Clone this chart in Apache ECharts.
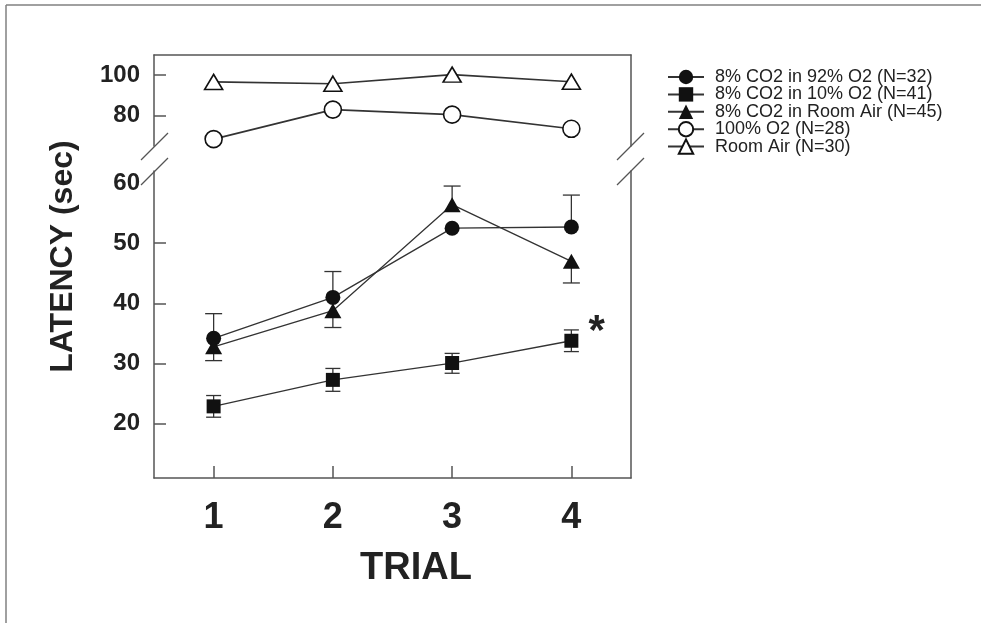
<!DOCTYPE html>
<html><head><meta charset="utf-8">
<script src="https://cdn.jsdelivr.net/npm/echarts@6/dist/echarts.min.js"></script>
<style>html,body{margin:0;padding:0;background:#fff}#c{width:981px;height:623px}</style>
</head><body><div id="c"></div>
<script>
// ---- data ----
const trials = ['1', '2', '3', '4'];
const seriesNames = ['8% CO2 in 92% O2 (N=32)', '8% CO2 in 10% O2 (N=41)', '8% CO2 in Room Air (N=45)', '100% O2 (N=28)', 'Room Air (N=30)'];
const co2In92O2 = [34.2, 41.0, 52.5, 52.7];
const co2In10O2 = [22.9, 27.3, 30.1, 33.8];
const co2InAir = [32.8, 38.8, 56.4, 47.0];
const o2Pure = [68.4, 83.0, 80.5, 73.5];
const roomAir = [96.7, 95.8, 100.3, 96.8];
// error bar end values (null = no visible bar)
const co2In92O2Hi = [38.3, 45.3, null, 58.0];
const co2InAirLo = [30.5, 36.0, null, 43.4];
const co2InAirHi = [null, null, 59.5, null];
const co2In10O2Lo = [21.1, 25.4, 28.4, 32.0];
const co2In10O2Hi = [24.7, 29.2, 31.7, 35.6];
// axis ticks / labels
const lowerTickValues = [20, 30, 40, 50];
const lowerLabelValues = [20, 30, 40, 50, 60];
const upperTickValues = [80, 100];

// ---- chart ----
const FONT = '"Liberation Sans", Arial, sans-serif';
const AX = '#555';
const INK = '#111';
const LINE = '#333';

function errData(vals, ends) {
  const out = [];
  vals.forEach((v, i) => { if (ends[i] != null) out.push([i, v, ends[i]]); });
  return out;
}
function errRender(capW) {
  return function (params, api) {
    const p0 = api.coord([api.value(0), api.value(1)]);
    const p1 = api.coord([api.value(0), api.value(2)]);
    const st = { stroke: LINE, lineWidth: 1.3 };
    return { type: 'group', children: [
      { type: 'line', shape: { x1: p0[0], y1: p0[1], x2: p1[0], y2: p1[1] }, style: st },
      { type: 'line', shape: { x1: p1[0] - capW / 2, y1: p1[1], x2: p1[0] + capW / 2, y2: p1[1] }, style: st }
    ]};
  };
}
function errSeries(data, capW) {
  return { type: 'custom', xAxisIndex: 1, yAxisIndex: 2, z: 1, silent: true,
    renderItem: errRender(capW), encode: { x: 0, y: [1, 2] }, data: data };
}

const axLine = { show: true, lineStyle: { color: AX, width: 1.5 } };
const chart = echarts.init(document.getElementById('c'), null, { renderer: 'canvas' });
chart.setOption({
  animation: false,
  backgroundColor: '#fff',
  textStyle: { fontFamily: FONT },
  grid: [
    { left: 154, width: 477, top: 55, height: 91 },
    { left: 154, width: 477, top: 171, height: 307 }
  ],
  xAxis: [
    { gridIndex: 0, type: 'category', data: trials, position: 'top', boundaryGap: true,
      axisLine: axLine, axisTick: { show: false }, axisLabel: { show: false }, splitLine: { show: false } },
    { gridIndex: 1, type: 'category', data: trials, position: 'bottom', boundaryGap: true,
      axisLine: axLine,
      axisTick: { show: true, inside: true, alignWithLabel: true, length: 12, lineStyle: { color: AX, width: 1.5 } },
      axisLabel: { fontSize: 36, fontWeight: 'bold', color: '#222', fontFamily: FONT, margin: 40, verticalAlign: 'middle' },
      splitLine: { show: false } }
  ],
  yAxis: [
    { gridIndex: 0, type: 'value', min: 65, max: 110, position: 'left',
      axisLine: axLine,
      axisTick: { show: true, inside: true, length: 12, customValues: upperTickValues, lineStyle: { color: AX, width: 1.5 } },
      axisLabel: { customValues: upperTickValues, fontSize: 24, fontWeight: 'bold', color: '#222', fontFamily: FONT, margin: 14 },
      splitLine: { show: false } },
    { gridIndex: 0, type: 'value', min: 65, max: 110, position: 'right',
      axisLine: axLine, axisTick: { show: false }, axisLabel: { show: false }, splitLine: { show: false } },
    { gridIndex: 1, type: 'value', min: 11, max: 62, position: 'left',
      axisLine: axLine,
      axisTick: { show: true, inside: true, length: 12, customValues: lowerTickValues, lineStyle: { color: AX, width: 1.5 } },
      axisLabel: { customValues: lowerLabelValues, fontSize: 24, fontWeight: 'bold', color: '#222', fontFamily: FONT, margin: 14 },
      splitLine: { show: false } },
    { gridIndex: 1, type: 'value', min: 11, max: 62, position: 'right',
      axisLine: axLine, axisTick: { show: false }, axisLabel: { show: false }, splitLine: { show: false } }
  ],
  legend: {
    orient: 'vertical', left: 662, top: 63, itemWidth: 36, itemHeight: 18, itemGap: -0.6,
    data: seriesNames,
    textStyle: { fontSize: 18, color: '#222', fontFamily: FONT, padding: [0, 0, 0, 6], lineHeight: 18 },
    selectedMode: false
  },
  series: [
    errSeries(errData(co2In92O2, co2In92O2Hi), 17),
    errSeries(errData(co2InAir, co2InAirLo), 17),
    errSeries(errData(co2InAir, co2InAirHi), 17),
    errSeries(errData(co2In10O2, co2In10O2Lo), 15),
    errSeries(errData(co2In10O2, co2In10O2Hi), 15),
    { name: seriesNames[0], type: 'line', xAxisIndex: 1, yAxisIndex: 2, data: co2In92O2, z: 3,
      symbol: 'circle', symbolSize: 15, itemStyle: { color: INK }, lineStyle: { color: LINE, width: 1.3 } },
    { name: seriesNames[1], type: 'line', xAxisIndex: 1, yAxisIndex: 2, z: 3,
      data: co2In10O2.map((v, i) => i === 3 ? { value: v, label: { show: true, formatter: '*', position: 'right', offset: [5, -8], fontSize: 42, fontWeight: 'bold', color: '#222', fontFamily: FONT } } : v),
      symbol: 'rect', symbolSize: 14, itemStyle: { color: INK }, lineStyle: { color: LINE, width: 1.3 } },
    { name: seriesNames[2], type: 'line', xAxisIndex: 1, yAxisIndex: 2, data: co2InAir, z: 3,
      symbol: 'triangle', symbolSize: [17, 15], itemStyle: { color: INK }, lineStyle: { color: LINE, width: 1.3 } },
    { name: seriesNames[3], type: 'line', xAxisIndex: 0, yAxisIndex: 0, data: o2Pure, z: 3,
      symbol: 'circle', symbolSize: 17, itemStyle: { color: '#fff', borderColor: INK, borderWidth: 1.6 }, lineStyle: { color: LINE, width: 1.6 } },
    { name: seriesNames[4], type: 'line', xAxisIndex: 0, yAxisIndex: 0, data: roomAir, z: 3,
      symbol: 'triangle', symbolSize: [18, 15], itemStyle: { color: '#fff', borderColor: INK, borderWidth: 1.6 }, lineStyle: { color: LINE, width: 1.6 } }
  ],
  graphic: [
    { type: 'line', shape: { x1: 6, y1: 5, x2: 981, y2: 5 }, style: { stroke: '#808080', lineWidth: 1.5 } },
    { type: 'line', shape: { x1: 6, y1: 5, x2: 6, y2: 623 }, style: { stroke: '#808080', lineWidth: 1.5 } },
    { type: 'line', shape: { x1: 141, y1: 160, x2: 168, y2: 133 }, style: { stroke: AX, lineWidth: 1.2 } },
    { type: 'line', shape: { x1: 141, y1: 185, x2: 168, y2: 158 }, style: { stroke: AX, lineWidth: 1.2 } },
    { type: 'line', shape: { x1: 617, y1: 160, x2: 644, y2: 133 }, style: { stroke: AX, lineWidth: 1.2 } },
    { type: 'line', shape: { x1: 617, y1: 185, x2: 644, y2: 158 }, style: { stroke: AX, lineWidth: 1.2 } },
    { type: 'text', x: 416, y: 569, style: { text: 'TRIAL', fontSize: 38, fontWeight: 'bold', fill: '#222', fontFamily: FONT, textAlign: 'center', textVerticalAlign: 'middle' } },
    { type: 'text', x: 63.5, y: 256.5, rotation: Math.PI / 2, style: { text: 'LATENCY (sec)', fontSize: 32, fontWeight: 'bold', fill: '#222', fontFamily: FONT, textAlign: 'center', textVerticalAlign: 'middle' } }
  ]
});
</script>
</body></html>
